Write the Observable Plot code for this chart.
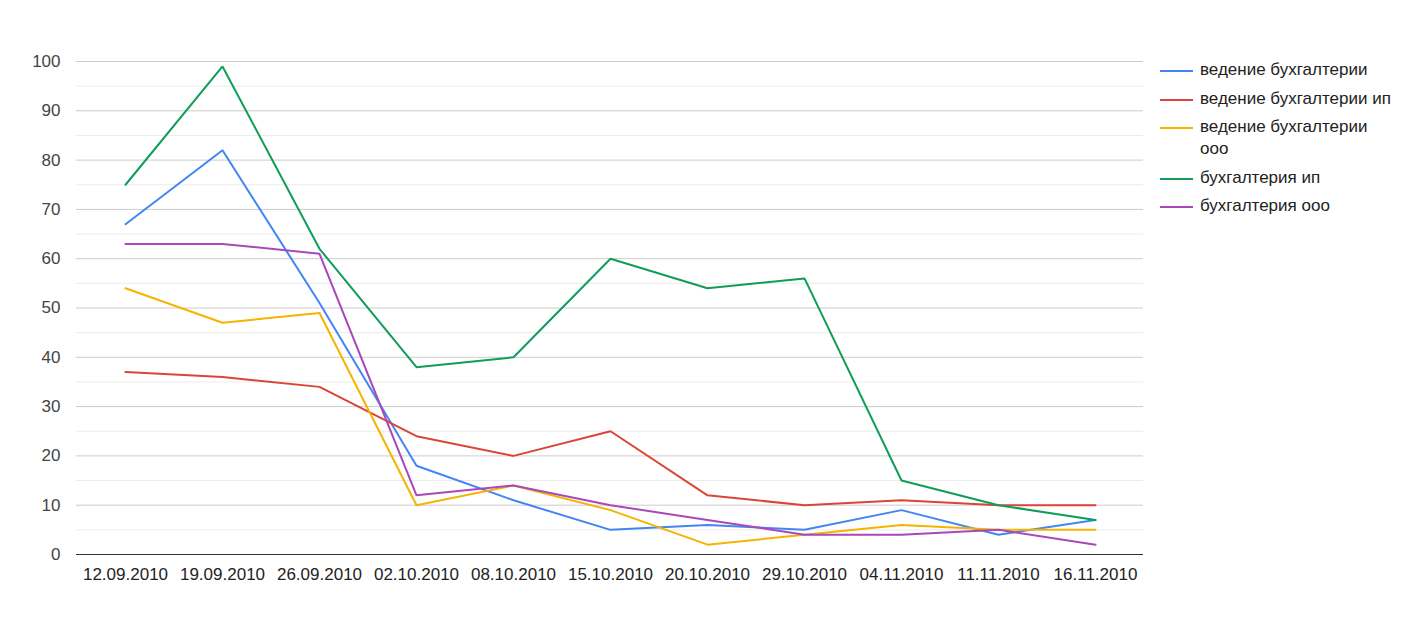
<!DOCTYPE html>
<html><head><meta charset="utf-8">
<script src="https://cdn.jsdelivr.net/npm/d3@7"></script>
<script src="https://cdn.jsdelivr.net/npm/@observablehq/plot@0.6"></script>
<style>
body{margin:0;background:#fff;font-family:"Liberation Sans",Arial,sans-serif;}
#wrap{position:relative;width:1412px;height:638px;}
#legend{position:absolute;left:1160px;top:59px;width:238px;font-size:17px;color:#222;}
.item{display:flex;align-items:flex-start;margin-bottom:6.5px;line-height:22px;}
.item span.t{width:197px;}
.sw{width:33px;height:2px;margin-top:11px;margin-right:7px;flex:none;}
</style></head>
<body><div id="wrap"><div id="chart"></div><div id="legend"></div></div>
<script>
const dates = ["12.09.2010","19.09.2010","26.09.2010","02.10.2010","08.10.2010","15.10.2010","20.10.2010","29.10.2010","04.11.2010","11.11.2010","16.11.2010"];
const seriesNames = ["ведение бухгалтерии","ведение бухгалтерии ип","ведение бухгалтерии ооо","бухгалтерия ип","бухгалтерия ооо"];
const vedenie = [67,82,51,18,11,5,6,5,9,4,7];
const vedenieIp = [37,36,34,24,20,25,12,10,11,10,10];
const vedenieOoo = [54,47,49,10,14,9,2,4,6,5,5];
const buhIp = [75,99,62,38,40,60,54,56,15,10,7];
const buhOoo = [63,63,61,12,14,10,7,4,4,5,2];
const colors = ["#4285f4","#db4437","#f4b400","#0f9d58","#ab47bc"];
const majorTicks = [0,10,20,30,40,50,60,70,80,90,100];
const minorTicks = [5,15,25,35,45,55,65,75,85,95];

const allSeries = [vedenie, vedenieIp, vedenieOoo, buhIp, buhOoo];
const data = [];
allSeries.forEach((vals, si) => vals.forEach((v, i) => data.push({series: seriesNames[si], date: dates[i], value: v})));

const chart = Plot.plot({
  width: 1150, height: 638,
  marginLeft: 76, marginRight: 7, marginTop: 61, marginBottom: 84,
  style: {fontFamily: '"Liberation Sans", Arial, sans-serif', fontSize: "17px", background: "#fff"},
  x: {type: "point", domain: dates, padding: 0.5, label: null},
  y: {domain: [0, 100], label: null},
  color: {domain: seriesNames, range: colors},
  marks: [
    Plot.ruleY(minorTicks, {stroke: "#ebebeb", strokeWidth: 1}),
    Plot.ruleY(majorTicks.filter(d => d > 0), {stroke: "#cccccc", strokeWidth: 1}),
    Plot.axisY(majorTicks, {tickSize: 0, tickPadding: 16, fill: "#444", label: null, fontSize: 17}),
    Plot.axisX({tickSize: 0, tickPadding: 13, fill: "#222", label: null, fontSize: 17}),
    Plot.lineY(data, {x: "date", y: "value", z: "series", stroke: "series", strokeWidth: 2, strokeLinejoin: "miter"}),
    Plot.ruleY([0], {stroke: "#333", strokeWidth: 1})
  ]
});
document.getElementById("chart").appendChild(chart);

const legend = document.getElementById("legend");
seriesNames.forEach((n, i) => {
  const d = document.createElement("div");
  d.className = "item";
  d.innerHTML = `<span class="sw" style="background:${colors[i]}"></span><span class="t">${n}</span>`;
  legend.appendChild(d);
});
</script></body></html>
